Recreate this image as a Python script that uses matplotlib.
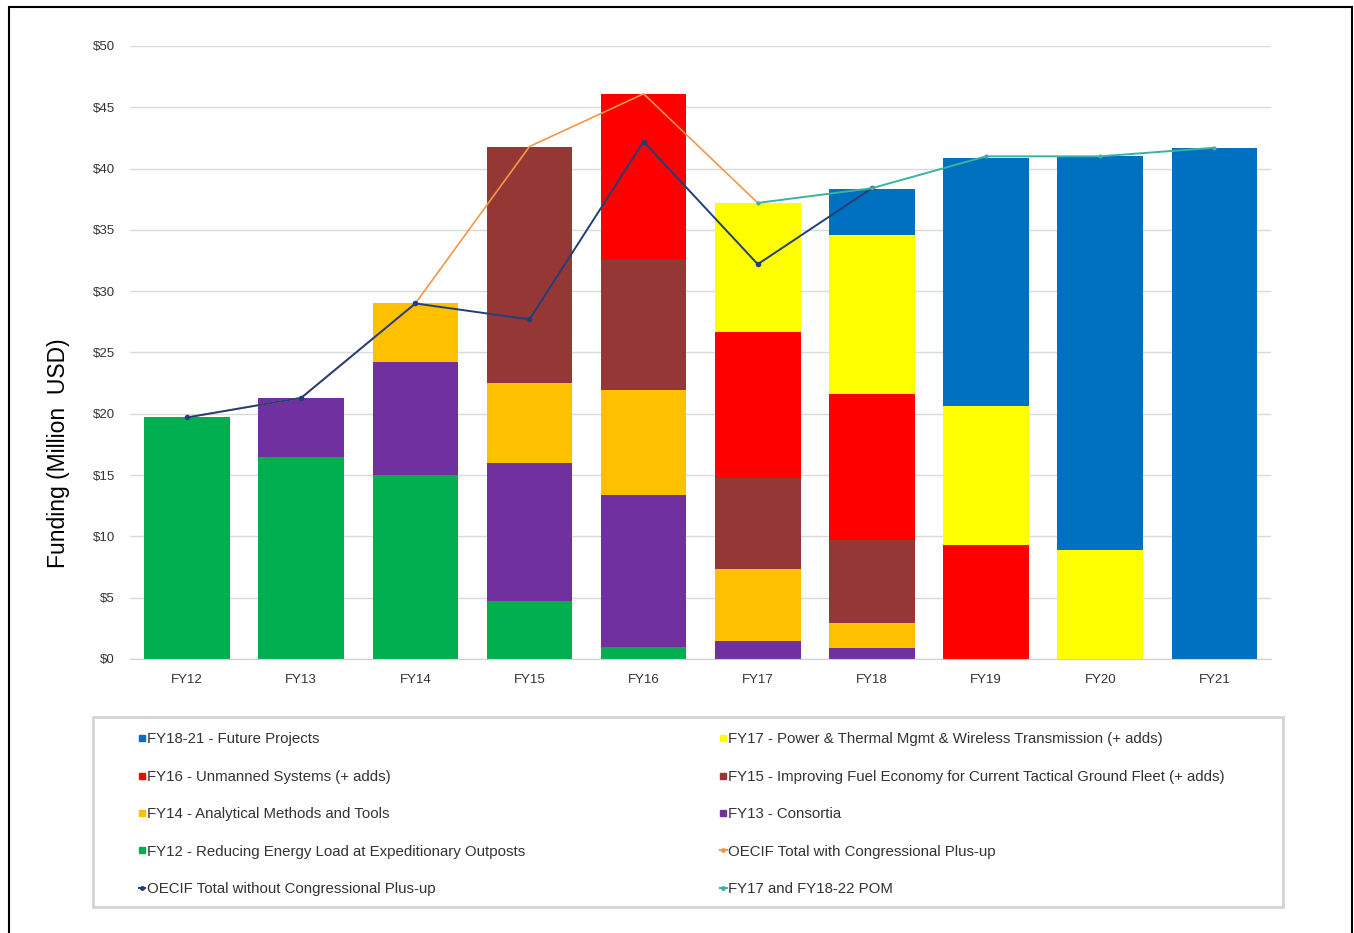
import matplotlib
matplotlib.use("Agg")
import matplotlib.pyplot as plt
from matplotlib.lines import Line2D
from matplotlib.patches import Rectangle
from matplotlib.ticker import FuncFormatter, MultipleLocator
import numpy as np

plt.rcParams['font.family'] = ['Liberation Sans', 'DejaVu Sans']

years = ['FY12', 'FY13', 'FY14', 'FY15', 'FY16', 'FY17', 'FY18', 'FY19', 'FY20', 'FY21']

# stacked segments, bottom to top (million USD)
fy12_outposts = [19.7, 16.5, 15.0, 4.7, 1.0, 0, 0, 0, 0, 0]
fy13_consortia = [0, 4.8, 9.2, 11.3, 12.4, 1.5, 0.9, 0, 0, 0]
fy14_methods = [0, 0, 4.8, 6.5, 8.5, 5.8, 2.0, 0, 0, 0]
fy15_fuel = [0, 0, 0, 19.3, 10.7, 7.5, 6.8, 0, 0, 0]
fy16_unmanned = [0, 0, 0, 0, 13.5, 11.9, 11.9, 9.3, 0, 0]
fy17_power = [0, 0, 0, 0, 0, 10.5, 13.0, 11.3, 8.9, 0]
future = [0, 0, 0, 0, 0, 0, 3.7, 20.3, 32.1, 41.7]

# line series
with_plusup = [19.7, 21.3, 29.0, 41.8, 46.1, 37.2]
without_plusup = [19.7, 21.3, 29.0, 27.7, 42.2, 32.2, 38.4]
pom = [37.2, 38.4, 41.0, 41.0, 41.7]

labels = {
    'future': 'FY18-21 - Future Projects',
    'fy17': 'FY17 - Power & Thermal Mgmt & Wireless Transmission (+ adds)',
    'fy16': 'FY16 - Unmanned Systems (+ adds)',
    'fy15': 'FY15 - Improving Fuel Economy for Current Tactical Ground Fleet (+ adds)',
    'fy14': 'FY14 - Analytical Methods and Tools',
    'fy13': 'FY13 - Consortia',
    'fy12': 'FY12 - Reducing Energy Load at Expeditionary Outposts',
    'with': 'OECIF Total with Congressional Plus-up',
    'without': 'OECIF Total without Congressional Plus-up',
    'pom': 'FY17 and FY18-22 POM',
}

colors = {
    'fy12': '#00B050', 'fy13': '#7030A0', 'fy14': '#FFC000', 'fy15': '#953735',
    'fy16': '#FF0000', 'fy17': '#FFFF00', 'future': '#0070C0',
    'with': '#F79646', 'without': '#243F78', 'pom': '#3CB3A0',
}

fig = plt.figure(figsize=(13.54, 9.33), dpi=100)
ax = fig.add_axes([0.096, 0.2937, 0.843, 0.657])

x = np.arange(len(years))
bottom = np.zeros(len(years))
for key, vals in [('fy12', fy12_outposts), ('fy13', fy13_consortia), ('fy14', fy14_methods),
                  ('fy15', fy15_fuel), ('fy16', fy16_unmanned), ('fy17', fy17_power),
                  ('future', future)]:
    ax.bar(x, vals, 0.75, bottom=bottom, color=colors[key], zorder=2)
    bottom += np.array(vals)

ax.plot(x[:len(with_plusup)], with_plusup, color=colors['with'], lw=1.2, zorder=3)
ax.plot(x[:len(without_plusup)], without_plusup, color=colors['without'], lw=1.4,
        marker='o', ms=3, zorder=4)
ax.plot(x[5:5 + len(pom)], pom, color=colors['pom'], lw=1.4, marker='o', ms=2, zorder=4)

ax.set_xlim(-0.5, 9.5)
ax.set_ylim(0, 50)
ax.yaxis.set_major_locator(MultipleLocator(5))
ax.yaxis.set_major_formatter(FuncFormatter(lambda v, p: r'\$%d' % v))
ax.set_xticks(x)
ax.set_xticklabels(years)
ax.tick_params(axis='both', labelsize=9.5, colors='#333333', length=0, pad=11)
ax.tick_params(axis='y', pad=11)
ax.grid(axis='y', color='#DADADA', lw=1, zorder=0)
for s in ['top', 'right', 'left']:
    ax.spines[s].set_visible(False)
ax.spines['bottom'].set_color('#D0D0D0')

# y label sits below the axis centre in the original
fig.text(58 / 1354, 1 - 453 / 933, 'Funding (Million  USD)', fontsize=16.5,
         rotation=90, ha='center', va='center')

# legend frame
fig.patches.append(Rectangle((93 / 1354, 1 - 907 / 933), 1190 / 1354, 190 / 933,
                             transform=fig.transFigure, fill=False,
                             edgecolor='#D4D4D4', lw=2))


def sq(key):
    return Line2D([], [], color=colors[key], marker='s', ms=4, ls='none')


def ln(key):
    return Line2D([], [], color=colors[key], marker='o', ms=2.5, lw=1.5)


order = [('future', sq), ('fy16', sq), ('fy14', sq), ('fy12', sq), ('without', ln),
         ('fy17', sq), ('fy15', sq), ('fy13', sq), ('with', ln), ('pom', ln)]
handles = [f(k) for k, f in order]
texts = [labels[k] for k, f in order]
fig.legend(handles, texts, ncol=2, loc='upper left',
           bbox_to_anchor=(125 / 1354, 1 - 719 / 933), frameon=False,
           fontsize=10.8, handlelength=0.45, handletextpad=0.1,
           labelspacing=1.56, columnspacing=13.0, labelcolor='#333333')

# outer border
fig.patches.append(Rectangle((9 / 1354, -0.01), 1343 / 1354, 1 - 7 / 933 + 0.01,
                             transform=fig.transFigure, fill=False,
                             edgecolor='black', lw=1.5))

fig.savefig('out.png', dpi=100)
